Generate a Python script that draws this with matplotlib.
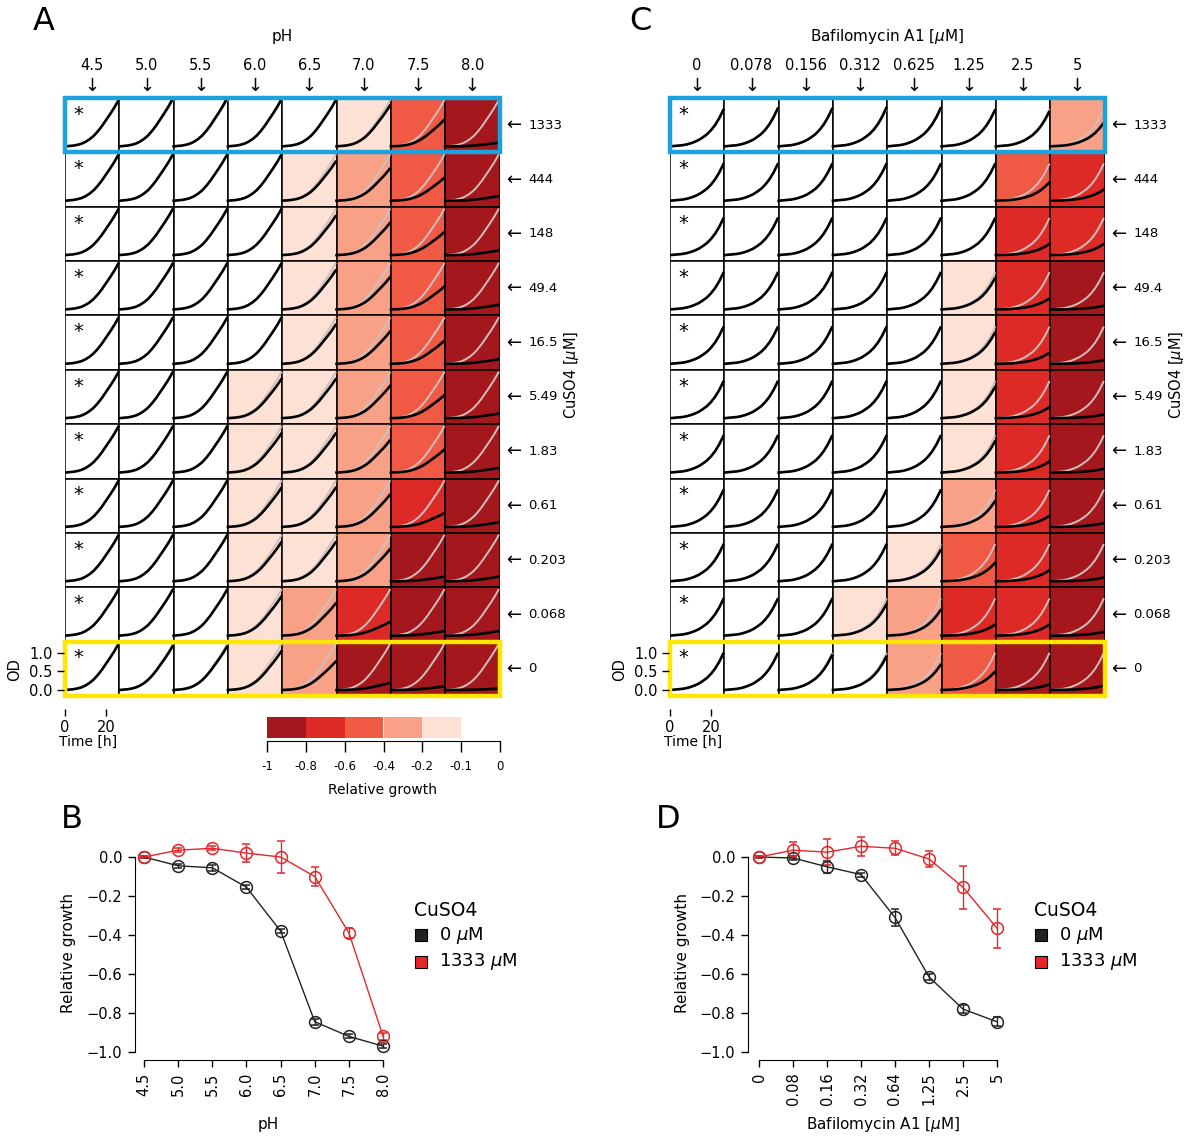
import numpy as np
import matplotlib
matplotlib.use('Agg')
import matplotlib.pyplot as plt
from matplotlib.patches import Rectangle
from matplotlib.colors import ListedColormap, BoundaryNorm

W, H = 1200, 1136

# ---- data ----
cuso4_labels = ['1333', '444', '148', '49.4', '16.5', '5.49', '1.83', '0.61', '0.203', '0.068', '0']
ph_labels = ['4.5', '5.0', '5.5', '6.0', '6.5', '7.0', '7.5', '8.0']
baf_labels = ['0', '0.078', '0.156', '0.312', '0.625', '1.25', '2.5', '5']

# growth curves of the untreated reference (OD vs time)
times = [0, 2, 4, 6, 8, 10, 12, 14, 16, 18, 20, 22, 24, 26]
od_ref_ph = [0.00, 0.01, 0.02, 0.04, 0.07, 0.12, 0.19, 0.28, 0.40, 0.54, 0.70, 0.86, 1.03, 1.22]
od_ref_baf = [0.00, 0.01, 0.02, 0.03, 0.05, 0.08, 0.12, 0.17, 0.24, 0.32, 0.43, 0.57, 0.75, 0.97]

# relative growth per cell (rows: CuSO4 1333 -> 0, cols: pH / bafilomycin)
growth_ph = [
    [0.0, 0.035, 0.045, 0.02, 0.0, -0.11, -0.42, -0.92],
    [0.0, 0.0, 0.0, 0.0, -0.15, -0.3, -0.5, -0.9],
    [0.0, 0.0, 0.0, 0.0, -0.15, -0.3, -0.5, -0.9],
    [0.0, 0.0, 0.0, 0.0, -0.15, -0.3, -0.5, -0.9],
    [0.0, 0.0, 0.0, 0.0, -0.15, -0.3, -0.5, -0.9],
    [0.0, 0.0, 0.0, -0.15, -0.15, -0.3, -0.5, -0.9],
    [0.0, 0.0, 0.0, -0.15, -0.15, -0.3, -0.5, -0.9],
    [0.0, 0.0, 0.0, -0.15, -0.15, -0.3, -0.7, -0.9],
    [0.0, 0.0, 0.0, -0.15, -0.15, -0.3, -0.9, -0.9],
    [0.0, 0.0, 0.0, -0.15, -0.3, -0.7, -0.9, -0.9],
    [0.0, -0.045, -0.055, -0.155, -0.38, -0.845, -0.92, -0.97],
]
growth_baf = [
    [0.0, 0.035, 0.025, 0.055, 0.045, -0.01, -0.05, -0.365],
    [0.0, 0.0, 0.0, 0.0, 0.0, 0.0, -0.5, -0.7],
    [0.0, 0.0, 0.0, 0.0, 0.0, 0.0, -0.7, -0.7],
    [0.0, 0.0, 0.0, 0.0, 0.0, -0.15, -0.7, -0.9],
    [0.0, 0.0, 0.0, 0.0, 0.0, -0.15, -0.7, -0.9],
    [0.0, 0.0, 0.0, 0.0, 0.0, -0.15, -0.7, -0.9],
    [0.0, 0.0, 0.0, 0.0, 0.0, -0.15, -0.7, -0.9],
    [0.0, 0.0, 0.0, 0.0, 0.0, -0.3, -0.7, -0.9],
    [0.0, 0.0, 0.0, 0.0, -0.15, -0.5, -0.7, -0.9],
    [0.0, 0.0, 0.0, -0.15, -0.3, -0.7, -0.7, -0.9],
    [0.0, -0.005, -0.05, -0.09, -0.31, -0.5, -0.85, -0.88],
]

# color scale (bins are shown with equal widths in the key)
cbar_edges = [-1, -0.8, -0.6, -0.4, -0.2, -0.1, 0]
cbar_colors = ['#A3171D', '#DE2A26', '#F05A45', '#F8A186', '#FDE1D5', '#FFFFFF']
cbar_ticklabels = ['-1', '-0.8', '-0.6', '-0.4', '-0.2', '-0.1', '0']

# panel B
ph_values = [4.5, 5.0, 5.5, 6.0, 6.5, 7.0, 7.5, 8.0]
b_cu0 = [0.0, -0.045, -0.055, -0.155, -0.38, -0.845, -0.92, -0.97]
b_cu0_err = [0.005, 0.01, 0.015, 0.01, 0.01, 0.015, 0.01, 0.01]
b_cu1333 = [0.0, 0.035, 0.045, 0.02, 0.0, -0.1, -0.39, -0.92]
b_cu1333_err = [0.005, 0.01, 0.01, 0.045, 0.08, 0.05, 0.025, 0.02]

# panel D
baf_ticks = ['0', '0.08', '0.16', '0.32', '0.64', '1.25', '2.5', '5']
d_cu0 = [0.0, -0.005, -0.05, -0.09, -0.31, -0.615, -0.78, -0.845]
d_cu0_err = [0.005, 0.01, 0.03, 0.01, 0.045, 0.015, 0.022, 0.022]
d_cu1333 = [0.0, 0.035, 0.025, 0.055, 0.045, -0.01, -0.155, -0.365]
d_cu1333_err = [0.005, 0.04, 0.065, 0.05, 0.035, 0.04, 0.11, 0.1]

RED = '#E5262A'
DARK = '#222222'
GRAY_CURVE = '#D2BFBB'
OD_LO, OD_HI = -0.16, 1.29
T_SPAN = 26.5

cmap = ListedColormap(cbar_colors)
norm = BoundaryNorm(cbar_edges, cmap.N, clip=True)

fig = plt.figure(figsize=(W / 100, H / 100), dpi=100)


def px_axes(l, t, r, b):
    return fig.add_axes([l / W, 1 - b / H, (r - l) / W, (b - t) / H])


def ftext(x, y, s, **kw):
    kw.setdefault('ha', 'center')
    kw.setdefault('va', 'center')
    return fig.text(x / W, 1 - y / H, s, **kw)


GRID_TOP, GRID_BOT, GRID_W = 98, 696, 434.5
CELL_W = GRID_W / 8
CELL_H = (GRID_BOT - GRID_TOP) / 11


def draw_grid(x0, growth, ref, col_labels, title):
    ax = px_axes(x0, GRID_TOP, x0 + GRID_W, GRID_BOT)
    ax.set_xlim(0, 8)
    ax.set_ylim(11, 0)
    ax.axis('off')
    tx = np.array(times) / T_SPAN
    ref = np.array(ref)
    for r in range(11):
        for c in range(8):
            v = growth[r][c]
            ax.add_patch(Rectangle((c, r), 1, 1, facecolor=cmap(norm(v)),
                                   edgecolor='black', lw=1.1, zorder=1))
            y_ref = r + 1 - (ref - OD_LO) / (OD_HI - OD_LO)
            y_obs = r + 1 - (ref * (1 + v) - OD_LO) / (OD_HI - OD_LO)
            ax.plot(c + tx, y_ref, color=GRAY_CURVE, lw=1.4, zorder=2)
            ax.plot(c + tx, y_obs, color='black', lw=1.9, zorder=3)
        ax.text(0.24, r + 0.3, '*', fontsize=14, ha='center', va='center', zorder=4)
    ax.add_patch(Rectangle((0, 0), 8, 1, fill=False, edgecolor='#1CA3DD', lw=3.2,
                           zorder=5, clip_on=False))
    ax.add_patch(Rectangle((0, 10), 8, 1, fill=False, edgecolor='#FFE600', lw=3.2,
                           zorder=5, clip_on=False))

    # column labels with arrows
    for c, lab in enumerate(col_labels):
        xc = x0 + (c + 0.5) * CELL_W
        ftext(xc, 65, lab, fontsize=10.5)
        ftext(xc, 86, '\u2193', fontsize=13)
    ftext(x0 + GRID_W / 2, 37, title, fontsize=11)

    # row labels with arrows
    for r, lab in enumerate(cuso4_labels):
        yc = GRID_TOP + (r + 0.5) * CELL_H
        ftext(x0 + GRID_W + 14, yc, '\u2190', fontsize=13)
        ftext(x0 + GRID_W + 29, yc, lab, fontsize=9.5, ha='left')
    ftext(x0 + GRID_W + 72, 375, r'CuSO4 [$\mu$M]', fontsize=10.5, rotation=90)

    # OD / time axes on the bottom-left cell
    ax2 = px_axes(x0, GRID_BOT - CELL_H, x0 + CELL_W, GRID_BOT)
    ax2.patch.set_alpha(0)
    ax2.set_xlim(0, T_SPAN)
    ax2.set_ylim(OD_LO, OD_HI)
    for s in ['top', 'right', 'left', 'bottom']:
        ax2.spines[s].set_visible(False)
    ax2.spines['bottom'].set_position(('outward', 9))
    ax2.spines['left'].set_position(('outward', 1))
    ax2.set_xticks([0, 20])
    ax2.set_yticks([0.0, 0.5, 1.0])
    ax2.set_yticklabels(['0.0', '0.5', '1.0'])
    ax2.tick_params(length=5, width=1, labelsize=10.5, pad=3)
    ftext(x0 + 23, 742, 'Time [h]', fontsize=10)
    ftext(x0 - 50, 670, 'OD', fontsize=10.5, rotation=90)


draw_grid(65, growth_ph, od_ref_ph, ph_labels, 'pH')
draw_grid(670, growth_baf, od_ref_baf, baf_labels, r'Bafilomycin A1 [$\mu$M]')

# colorbar: one equal-width block per bin
cax = px_axes(267, 717, 500, 738)
n_bins = len(cbar_colors)
cax.set_xlim(0, n_bins)
cax.set_ylim(0, 1)
cax.bar(np.arange(n_bins), np.ones(n_bins), width=1.0, align='edge',
        color=cbar_colors, linewidth=0)
for s in ['top', 'right', 'left']:
    cax.spines[s].set_visible(False)
cax.spines['bottom'].set_position(('outward', 2))
cax.set_yticks([])
cax.set_xticks(np.arange(n_bins + 1))
cax.set_xticklabels(cbar_ticklabels)
cax.tick_params(axis='x', length=8, width=1, labelsize=8.5, pad=6)
ftext(383, 790, 'Relative growth', fontsize=10)


def line_panel(l, r, x, xlim, series, ticklabels, xlabel, ylab_x, leg_x):
    ax = px_axes(l, 835, r, 1060)
    ax.set_xlim(*xlim)
    ax.set_ylim(-1.041, 0.113)
    for y, e, col in series:
        ax.errorbar(x, y, yerr=e, color=col, lw=1.0, marker='o', ms=8.5,
                    mfc='none', mew=1.1, capsize=3, elinewidth=1.0, capthick=1.0)
    ax.spines['top'].set_visible(False)
    ax.spines['right'].set_visible(False)
    ax.spines['left'].set_bounds(-1, 0)
    ax.spines['bottom'].set_bounds(x[0], x[-1])
    ax.set_yticks([0.0, -0.2, -0.4, -0.6, -0.8, -1.0])
    ax.set_yticklabels(['0.0', '\u22120.2', '\u22120.4', '\u22120.6', '\u22120.8', '\u22121.0'])
    ax.set_xticks(x)
    ax.set_xticklabels(ticklabels, rotation=90)
    ax.tick_params(length=5, width=1, labelsize=10.5, pad=4)
    ftext((l + r) / 2 + 5, 1124, xlabel, fontsize=11)
    ftext(ylab_x, 953, 'Relative growth', fontsize=11, rotation=90)
    # legend
    ftext(leg_x, 910, 'CuSO4', fontsize=13.5, ha='left')
    for yy, col, lab in [(935, DARK, r'0 $\mu$M'), (962, RED, r'1333 $\mu$M')]:
        fig.add_artist(Rectangle(((leg_x + 1) / W, 1 - (yy + 6) / H), 12 / W, 12 / H,
                                 facecolor=col, edgecolor='black', lw=0.8,
                                 transform=fig.transFigure))
        ftext(leg_x + 25, yy, lab, fontsize=13, ha='left')


line_panel(135, 392, ph_values, (4.368, 8.13),
           [(b_cu0, b_cu0_err, DARK), (b_cu1333, b_cu1333_err, RED)],
           ph_labels, 'pH', 68, 414)
line_panel(748, 1008, list(range(8)), (-0.324, 7.324),
           [(d_cu0, d_cu0_err, DARK), (d_cu1333, d_cu1333_err, RED)],
           baf_ticks, r'Bafilomycin A1 [$\mu$M]', 683, 1034)

# panel letters
for s, x, y in [('A', 44, 21), ('C', 640, 21), ('B', 72, 820), ('D', 668, 820)]:
    ftext(x, y, s, fontsize=23)

fig.savefig('out.png', dpi=100)
